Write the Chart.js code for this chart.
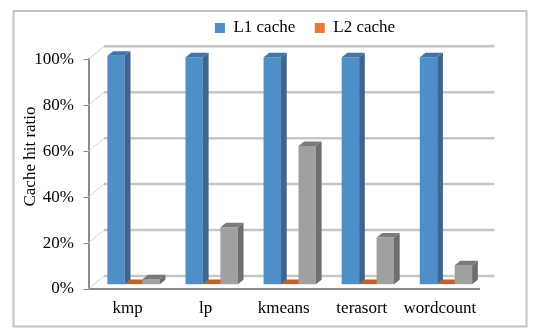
<!DOCTYPE html>
<html lang="en">
<head>
  <meta charset="UTF-8">
  <title>Cache hit ratio</title>
  <script src="https://cdn.jsdelivr.net/npm/chart.js"></script>
  <style>
    body { margin: 0; background: #fff; }
  </style>
</head>
<body>
  <canvas id="hitChart" width="534" height="333"></canvas>

  <script>
    const workloads = ['kmp', 'lp', 'kmeans', 'terasort', 'wordcount'];
    const l1Hits = [99.7, 99.0, 99.0, 99.0, 99.0];
    const l2Hits = [0.3, 0.3, 0.3, 0.3, 0.3];
    const thirdHits = [2.4, 25.0, 60.4, 20.5, 8.5];
    const yTicks = [0, 20, 40, 60, 80, 100];

    // front / side / top face colours, one per dataset
    const frontColors = ['#4f8fc8', '#e87a3a', '#a0a0a0'];
    const sideColors = ['#3f658f', '#8f4018', '#6e6e6e'];
    const topColors = ['#4673a3', '#c0602a', '#7b7b7b'];

    const WALL_DX = 15.5, WALL_DY = 13;   // back wall offset from the front axes
    const SHIFT_X = 6, SHIFT_Y = 4.3;     // bars stand half way into the floor
    const BAR_DX = 5.7, BAR_DY = 4.5;     // bar thickness

    Chart.defaults.font.family = "'Liberation Serif', 'Times New Roman', serif";
    Chart.defaults.font.size = 17;
    Chart.defaults.color = '#000';

    const depth = {
      id: 'depth',
      beforeInit(chart) {
        // keep room under the legend so the plot starts lower
        const legend = chart.legend;
        if (!legend) return;
        const fit = legend.fit;
        legend.fit = function () { fit.call(this); this.height = 59.3; };
      },
      afterLayout(chart) {
        chart.legend.left = 76;
        chart.legend.right = 534;
      },
      beforeDraw(chart) {
        const ctx = chart.ctx;
        ctx.save();
        ctx.strokeStyle = '#c4c4c4';
        ctx.lineWidth = 2;
        ctx.strokeRect(13.5, 11, 513, 315.5);
        ctx.restore();
      },
      beforeDatasetsDraw(chart) {
        // back wall grid and the slanted lines on the left wall
        const ctx = chart.ctx;
        const y = chart.scales.y;
        const {left, right} = chart.chartArea;
        ctx.save();
        yTicks.forEach(v => {
          const py = y.getPixelForValue(v);
          ctx.strokeStyle = '#d2d2d2';
          ctx.lineWidth = 1;
          ctx.beginPath();
          ctx.moveTo(left, py);
          ctx.lineTo(left + WALL_DX, py - WALL_DY);
          ctx.stroke();
          ctx.strokeStyle = '#c6c6c6';
          ctx.lineWidth = 2.5;
          ctx.beginPath();
          ctx.moveTo(left + WALL_DX, py - WALL_DY);
          ctx.lineTo(right + WALL_DX, py - WALL_DY);
          ctx.stroke();
        });
        ctx.restore();
      },
      beforeDatasetDraw() {
        return false;
      },
      afterDatasetsDraw(chart) {
        const ctx = chart.ctx;
        ctx.save();
        ctx.translate(SHIFT_X, -SHIFT_Y);
        [1, 0, 2].forEach(i => {
          chart.getDatasetMeta(i).data.forEach(bar => {
            const {x, y, base, width} = bar.getProps(['x', 'y', 'base', 'width'], true);
            const l = x - width / 2, r = x + width / 2;
            bar.draw(ctx);
            ctx.fillStyle = sideColors[i];
            ctx.beginPath();
            ctx.moveTo(r, y);
            ctx.lineTo(r + BAR_DX, y - BAR_DY);
            ctx.lineTo(r + BAR_DX, base - BAR_DY);
            ctx.lineTo(r, base);
            ctx.closePath();
            ctx.fill();
            ctx.fillStyle = topColors[i];
            ctx.beginPath();
            ctx.moveTo(l, y);
            ctx.lineTo(l + BAR_DX, y - BAR_DY);
            ctx.lineTo(r + BAR_DX, y - BAR_DY);
            ctx.lineTo(r, y);
            ctx.closePath();
            ctx.fill();
          });
        });
        ctx.restore();
      },
      afterDraw(chart) {
        const ctx = chart.ctx;
        ctx.save();
        ctx.translate(31, 156.5);
        ctx.rotate(-Math.PI / 2);
        ctx.font = "17px 'Liberation Serif', serif";
        ctx.fillStyle = '#000';
        ctx.textAlign = 'center';
        ctx.textBaseline = 'middle';
        ctx.fillText('Cache hit ratio', 0, 0);
        ctx.restore();
      }
    };

    const ctx = document.getElementById('hitChart').getContext('2d');
    const chart = new Chart(ctx, {
      type: 'bar',
      data: {
        labels: workloads,
        datasets: [
          { label: 'L1 cache', data: l1Hits, backgroundColor: frontColors[0], borderWidth: 0 },
          { label: 'L2 cache', data: l2Hits, backgroundColor: frontColors[1], borderWidth: 0 },
          { label: '', data: thirdHits, backgroundColor: frontColors[2], borderWidth: 0 }
        ]
      },
      options: {
        responsive: false,
        animation: false,
        devicePixelRatio: 1,
        categoryPercentage: 0.67,
        barPercentage: 1,
        layout: { padding: { top: 0, left: 14, right: 55, bottom: 0 } },
        plugins: {
          tooltip: { enabled: false },
          legend: {
            labels: {
              boxWidth: 10,
              boxHeight: 10,
              padding: 19.5,
              filter: item => item.text !== ''
            }
          }
        },
        scales: {
          x: {
            grid: { display: false, drawTicks: false },
            border: { color: '#8a8a8a', width: 2 },
            ticks: { padding: 9, maxRotation: 0, minRotation: 0, autoSkip: false },
            afterFit: scale => { scale.height = 44; }
          },
          y: {
            min: 0,
            max: 100,
            afterBuildTicks: scale => { scale.ticks = yTicks.map(v => ({ value: v })); },
            grid: { drawOnChartArea: false, tickLength: 5, tickColor: '#8a8a8a' },
            border: { color: '#8a8a8a', width: 2 },
            ticks: { padding: 9.5, callback: v => v + '%' },
            afterFit: scale => { scale.width = 74.5; }
          }
        }
      },
      plugins: [depth]
    });
  </script>
</body>
</html>
